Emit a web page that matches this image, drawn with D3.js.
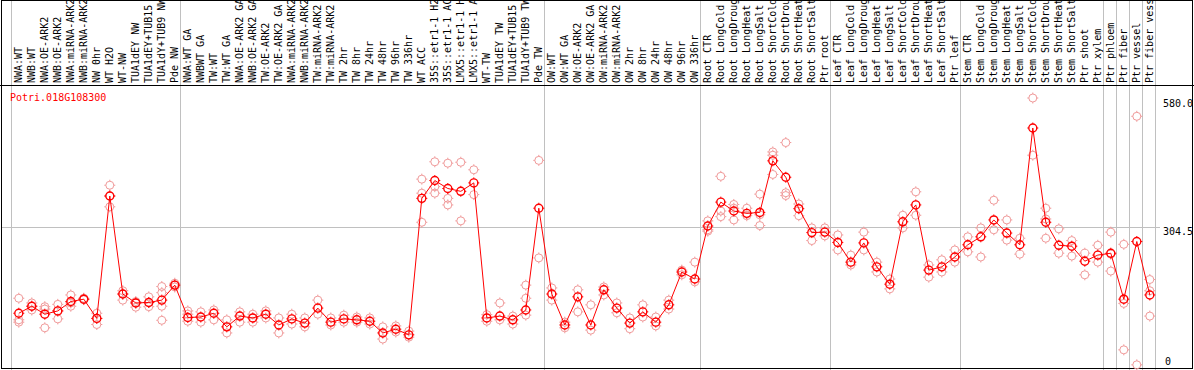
<!DOCTYPE html>
<html><head><meta charset="utf-8">
<script src="https://cdn.jsdelivr.net/npm/d3@7"></script>
<style>html,body{margin:0;padding:0;background:#fff}svg{display:block}</style>
</head><body>
<svg id="c" width="1194" height="370"></svg>
<script>
const geneName = "Potri.018G108300";
const labels = ["NWA:WT","NWB:WT","NWA:OE-ARK2","NWB:OE-ARK2","NWA:miRNA-ARK2","NWB:miRNA-ARK2","NW 0hr","WT H2O","WT-NW","TUA1dEY NW","TUA1dEY+TUB15","TUA1dY+TUB9 NW","Pde NW",
"NWA:WT GA","NWBWT GA","TW:WT","TW:WT GA","NWA:OE-ARK2 GA","NWB:OE-ARK2 GA","TW:OE-ARK2","TW:OE-ARK2 GA","NWA:miRNA-ARK2","NWB:miRNA-ARK2","TW:miRNA-ARK2","TW:miRNA-ARK2","TW 2hr","TW 8hr","TW 24hr","TW 48hr","TW 96hr","TW 336hr","WT ACC","35S::etr1-1 H2","35S::etr1-1 AC","LMX5::etr1-1 H","LMX5::etr1-1 A","WT-TW","TUA1dEY TW","TUA1dEY+TUB15","TUA1dY+TUB9 TW","Pde TW",
"OW:WT","OW:WT GA","OW:OE-ARK2","OW:OE-ARK2 GA","OW:miRNA-ARK2","OW:miRNA-ARK2","OW 2hr","OW 8hr","OW 24hr","OW 48hr","OW 96hr","OW 336hr",
"Root CTR","Root LongCold","Root LongDroug","Root LongHeat","Root LongSalt","Root ShortCold","Root ShortDrou","Root ShortHeat","Root ShortSalt","Ptr root",
"Leaf CTR","Leaf LongCold","Leaf LongDroug","Leaf LongHeat","Leaf LongSalt","Leaf ShortCold","Leaf ShortDrou","Leaf ShortHeat","Leaf ShortSalt","Ptr leaf",
"Stem CTR","Stem LongCold","Stem LongDroug","Stem LongHeat","Stem LongSalt","Stem ShortCold","Stem ShortDrou","Stem ShortHeat","Stem ShortSalt","Ptr shoot","Ptr xylem",
"Ptr phloem","Ptr fiber","Ptr vessel","Ptr fiber vess"];

const means = [121,136,119,126,146,151,110,371,162,143,144,149,181,
112,113,121,92,115,111,119,96,109,100,132,102,109,107,104,79,87,75,366,404,387,381,399,111,115,107,128,345,
162,96,156,96,171,132,100,124,102,139,209,194,
307,358,339,334,336,446,411,344,293,294,
272,230,271,220,183,316,352,213,220,241,
267,284,320,292,267,516,315,266,264,232,245,
249,151,274,160];

const replicates = [[153,107,102],[143,136,128],[135,130,90],[140,126,109],[160,143,136],[150,153],[121,110,97],[394,371,348],[169,149,162],[146,134,143],[156,135,144],[178,165,136,106],[185,181,177],
[126,119,104],[124,102],[128,107],[107,79],[124,102],[119,102],[126,111],[111,79],[119,98],[111,92],[149,119],[111,96],[117,102],[113,102],[111,98],[92,66],[94,81],[83,70],[407,377,315],[444,391,377],[441,366,352],[443,318],[427,374],[118,104],[143,107],[115,98],[181,153,117],[447,239],
[175,149],[102,90],[124,171],[139,85],[177,160],[143,122],[111,88],[139,113],[113,94],[149,130],[213,203],[230,188],
[318,299,296],[413,339,327],[353,320,345],[345,329],[375,308,331],[465,458,417],[485,378,372],[354,329],[303,276],[303,286],
[288,256],[245,224],[294,256],[230,209],[194,173],[330,303],[380,330],[224,198],[235,209],[256,230],
[284,252],[303,241],[362,299],[320,277],[281,247],[580,458],[345,322,281],[301,249],[276,243],[249,203],[266,230],
[294,247,211],[268,142,43],[541,11],[193,169,115]];

const groupBreaks = [0,13,41,53,63,73,84,85,86,87,88];
const yTicks = [580.0, 304.5, 0];
const yTickLabels = ["580.0","304.5","0"];

const W = 1194, H = 370;
const svg = d3.select("#c");
const font = "'DejaVu Sans Mono', monospace";

const x = d3.scaleLinear().domain([0, 88]).range([11, 1155]);
const px = i => x(i + 0.6);
const y = d3.scaleLinear().domain([0, 580]).range([370, 98]);

svg.append("g").selectAll("line").data(groupBreaks).join("line")
  .attr("x1", d => Math.round(x(d)) + 0.5).attr("x2", d => Math.round(x(d)) + 0.5)
  .attr("y1", 0).attr("y2", H)
  .attr("stroke", "#c0c0c0").attr("stroke-width", 1);

svg.append("line")
  .attr("x1", 1).attr("x2", 1160)
  .attr("y1", Math.round(y(yTicks[1])) + 0.5).attr("y2", Math.round(y(yTicks[1])) + 0.5)
  .attr("stroke", "#c0c0c0");

svg.append("rect").attr("x", 1.5).attr("y", 0.5).attr("width", 1191).attr("height", 368)
  .attr("fill", "none").attr("stroke", "#000");
svg.append("line").attr("x1", 0).attr("x2", W).attr("y1", 85.5).attr("y2", 85.5).attr("stroke", "#000");

svg.append("g").selectAll("text").data(labels).join("text")
  .attr("transform", (d, i) => `translate(${px(i) + 3.5},83) rotate(-90)`)
  .attr("font-family", font).attr("font-size", 10).attr("fill", "#000")
  .text(d => d);

const tickOffsets = [9, 8, -5];
svg.append("g").selectAll("text").data(yTicks).join("text")
  .attr("x", (d, i) => i === 2 ? 1165 : 1163).attr("y", (d, i) => y(d) + tickOffsets[i])
  .attr("text-anchor", "start")
  .attr("font-family", font).attr("font-size", 10).attr("fill", "#000")
  .text((d, i) => yTickLabels[i]);

svg.append("text").attr("x", 10).attr("y", 101)
  .attr("font-family", font).attr("font-size", 10).attr("fill", "#ff0000")
  .text(geneName);

function marker(g, cx, cy, color, sw) {
  const r = 4;
  g.append("circle").attr("cx", cx).attr("cy", cy).attr("r", r)
    .attr("fill", "none").attr("stroke", color).attr("stroke-width", sw);
  [[0,-1],[0,1],[-1,0],[1,0]].forEach(([dx, dy]) => {
    g.append("line")
      .attr("x1", cx + dx * r).attr("y1", cy + dy * r)
      .attr("x2", cx + dx * (r + 1.5)).attr("y2", cy + dy * (r + 1.5))
      .attr("stroke", color).attr("stroke-width", 1);
  });
}

const repG = svg.append("g");
replicates.forEach((reps, i) => reps.forEach(v => marker(repG, px(i), y(v), "#f09a9a", 1)));

svg.append("path").datum(means)
  .attr("d", d3.line().x((d, i) => px(i)).y(d => y(d)))
  .attr("fill", "none").attr("stroke", "#ff0000").attr("stroke-width", 1);

const meanG = svg.append("g");
means.forEach((v, i) => marker(meanG, px(i), y(v), "#ff0000", 1.4));
</script>
</body></html>
